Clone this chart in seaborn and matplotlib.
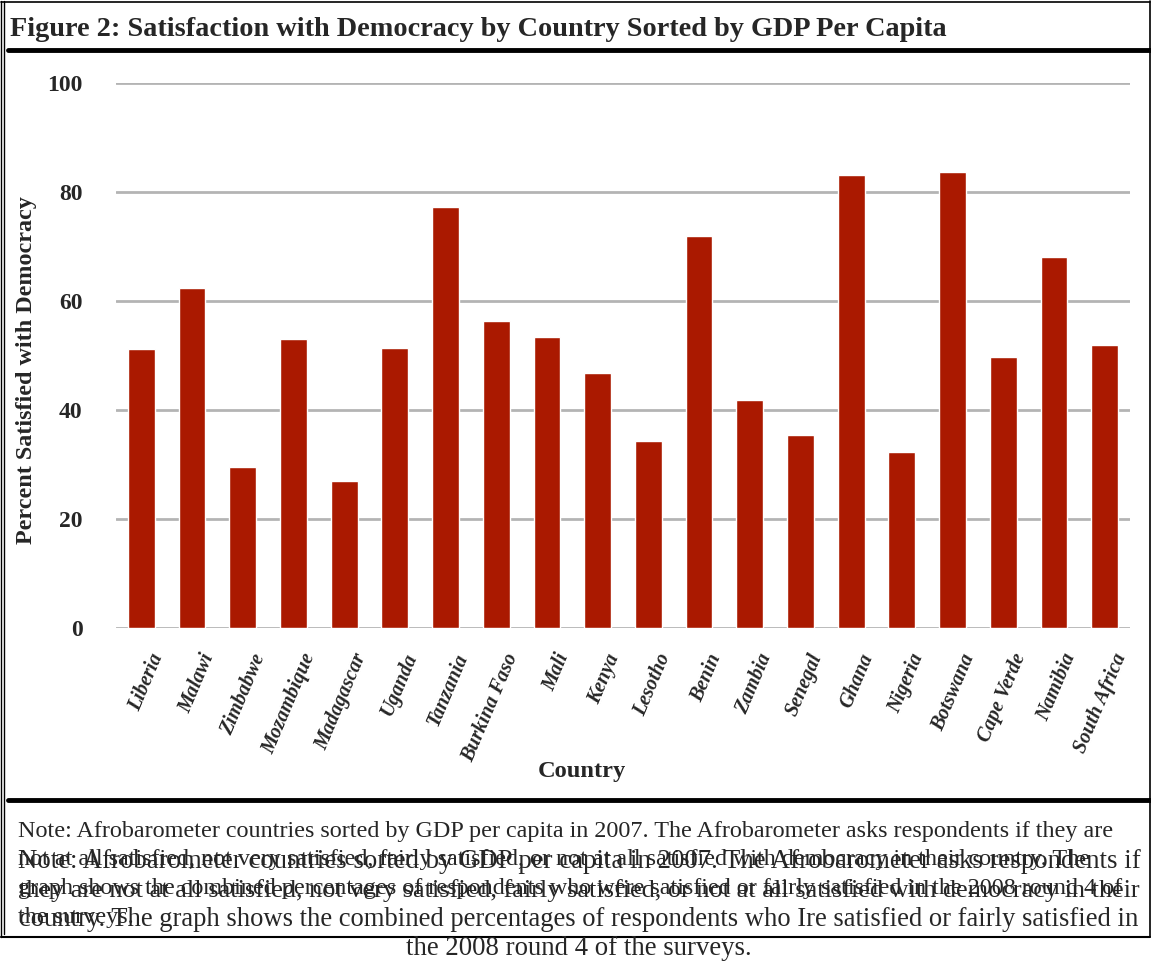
import matplotlib
matplotlib.use("Agg")
import matplotlib.pyplot as plt
from matplotlib.lines import Line2D
import matplotlib.transforms as mtransforms
import seaborn as sns
import pandas as pd

countries = ["Liberia", "Malawi", "Zimbabwe", "Mozambique", "Madagascar", "Uganda",
             "Tanzania", "Burkina Faso", "Mali", "Kenya", "Lesotho", "Benin", "Zambia",
             "Senegal", "Ghana", "Nigeria", "Botswana", "Cape Verde", "Namibia", "South Africa"]
satisfied = [51.3, 62.5, 29.6, 53.1, 27.0, 51.4, 77.3, 56.4, 53.5, 46.8, 34.4, 72.0, 41.9,
             35.5, 83.2, 32.4, 83.7, 49.8, 68.2, 52.0]
yticks = [0, 20, 40, 60, 80, 100]

title = "Figure 2: Satisfaction with Democracy by Country Sorted by GDP Per Capita"
ylabel = "Percent Satisfied with Democracy"
xlabel = "Country"
note_a = ["Note: Afrobarometer countries sorted by GDP per capita in 2007. The Afrobarometer asks respondents if they are",
          "not at all satisfied, not very satisfied, fairly satisfied, or not at all satisfied with democracy in their country. The",
          "graph shows the combined percentages of respondents who were satisfied or fairly satisfied in the 2008 round 4 of",
          "the surveys."]
note_b = ["Note: Afrobarometer countries sorted by GDP per capita in 2007. The Afrobarometer asks respondents if",
          "they are not at all satisfied, not very satisfied, fairly satisfied, or not at all satisfied with democracy in their",
          "country. The graph shows the combined percentages of respondents who Ire satisfied or fairly satisfied in",
          "the 2008 round 4 of the surveys."]
note_b_sizes = [19.3, 18.95, 19.2, 19.3]

sns.set_style("white")
plt.rcParams['font.family'] = ['Liberation Serif', 'DejaVu Serif']

W, H = 1151, 965
fig = plt.figure(figsize=(W / 100, H / 100), dpi=100)

def fx(px):
    return px / W

def fy(py):
    return 1 - py / H

ax_left, ax_right, ax_top, ax_bot = 116, 1130, 83.3, 628.3
ax = fig.add_axes([fx(ax_left), fy(ax_bot), fx(ax_right - ax_left), (ax_bot - ax_top) / H])

df = pd.DataFrame({"country": countries, "pct": satisfied})
sns.barplot(data=df, x="country", y="pct", color="#AA1900", saturation=1, width=0.53, ax=ax, zorder=3)

ax.set_ylim(0, 100)
ax.set_xlim(-0.5, len(countries) - 0.5)
ax.set_yticks(yticks)
ax.set_yticklabels([str(t) for t in yticks], fontweight='bold', fontsize=17)
ax.yaxis.grid(True, color="#B4B4B4", linewidth=2, zorder=0)
ax.set_axisbelow(True)
for s in ax.spines.values():
    s.set_visible(False)
ax.tick_params(axis='y', length=0, pad=24)
ax.tick_params(axis='x', length=0, pad=0)
ax.set_xlabel("")
ax.set_ylabel("")

offset = mtransforms.ScaledTranslation(17 / 100, -26 / 100, fig.dpi_scale_trans)
ax.set_xticks(range(len(countries)))
ax.set_xticklabels(countries, rotation=67, ha='right', va='center', rotation_mode='anchor',
                   fontweight='bold', fontstyle='italic', fontsize=14.5)
for lab in ax.get_xticklabels():
    lab.set_transform(lab.get_transform() + offset)

fig.text(fx(27), fy(370), ylabel, rotation=90, ha='center', va='center', fontweight='bold', fontsize=17.4)
fig.text(fx(582), fy(771), xlabel, ha='center', va='center', fontweight='bold', fontsize=17.6)
fig.text(fx(10), fy(30), title, ha='left', va='center', fontweight='bold', fontsize=20.3)

# frame
lines = [
    ((1, 1), (1, 937), 1.0),
    ((4, 4), (1, 934), 1.0),
    ((1, 1149.5), (1.5, 1.5), 1.2),
    ((1149.5, 1149.5), (1, 937), 1.2),
    ((1, 1149.5), (936.5, 936.5), 1.5),
    ((8, 1151), (50, 50), 3.5),
    ((8, 1151), (800, 800), 3.5),
]
for xs, ys, lw in lines:
    fig.add_artist(Line2D([fx(x) for x in xs], [fy(y) for y in ys], color='black',
                          linewidth=lw, transform=fig.transFigure))

for i, t in enumerate(note_a):
    fig.text(fx(18), fy(831 + 28.7 * i), t, ha='left', va='center', fontsize=17.4)
for i, t in enumerate(note_b):
    fig.text(fx(579), fy(862 + 28.7 * i), t, ha='center', va='center', fontsize=note_b_sizes[i])

fig.savefig("out.png", dpi=100)
